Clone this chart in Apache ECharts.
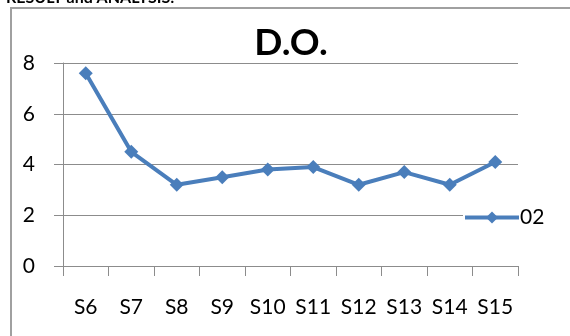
<!DOCTYPE html>
<html><head><meta charset="utf-8">
<script src="https://cdn.jsdelivr.net/npm/echarts@6/dist/echarts.min.js"></script>
<style>html,body{margin:0;padding:0;background:#fff}#c{width:570px;height:336px}</style>
</head><body><div id="c"></div>
<script>
const categories = ['S6','S7','S8','S9','S10','S11','S12','S13','S14','S15'];
const seriesName = '02';
const values = [7.6, 4.5, 3.2, 3.5, 3.8, 3.9, 3.2, 3.7, 3.2, 4.1];
const yTicks = [0, 2, 4, 6, 8];
const titleText = 'D.O.';
const headingText = 'RESULT and ANALYSIS:';

const chart = echarts.init(document.getElementById('c'), null, {renderer: 'canvas'});
const FONT = 'Lato';
chart.setOption({
  backgroundColor: '#fff',
  animation: false,
  graphic: [
    {type: 'rect', shape: {x: 11, y: 8, width: 600, height: 400}, style: {fill: 'none', stroke: '#a0a0a0', lineWidth: 2}, z: 0},
    {type: 'text', x: 6, y: -10, style: {text: headingText, font: 'bold 16px Lato', fill: '#000'}, z: 5},
    {type: 'text', x: 291, y: 43, style: {text: titleText, font: 'bold 37px Lato', fill: '#000', align: 'center', verticalAlign: 'middle'}, z: 5}
  ],
  legend: {
    show: true,
    left: 463, top: 207,
    itemWidth: 54, itemHeight: 15,
    itemGap: 0,
    padding: 0,
    backgroundColor: '#fff',
    lineStyle: {width: 4},
    textStyle: {fontFamily: FONT, fontSize: 21, color: '#000', padding: [0, 0, 0, -4]},
    data: [seriesName]
  },
  grid: {left: 63, top: 63, width: 455, height: 203, containLabel: false},
  xAxis: {
    type: 'category',
    data: categories,
    boundaryGap: true,
    axisLine: {lineStyle: {color: '#8c8c8c', width: 1}},
    axisTick: {show: true, length: 10, interval: 0, lineStyle: {color: '#8c8c8c'}},
    axisLabel: {fontFamily: FONT, fontSize: 21, color: '#000', margin: 31, interval: 0}
  },
  yAxis: {
    type: 'value',
    min: yTicks[0], max: yTicks[yTicks.length - 1], interval: 2,
    axisLine: {show: true, lineStyle: {color: '#8c8c8c', width: 1}},
    axisTick: {show: true, length: 9, lineStyle: {color: '#8c8c8c'}},
    axisLabel: {fontFamily: FONT, fontSize: 21, color: '#000', margin: 28},
    splitLine: {show: true, lineStyle: {color: '#8c8c8c', width: 1}}
  },
  series: [{
    name: seriesName,
    type: 'line',
    data: values,
    symbol: 'diamond',
    symbolSize: 14,
    lineStyle: {color: '#4a7ebb', width: 4},
    itemStyle: {color: '#4a7ebb'},
    z: 3
  }]
});
</script></body></html>
